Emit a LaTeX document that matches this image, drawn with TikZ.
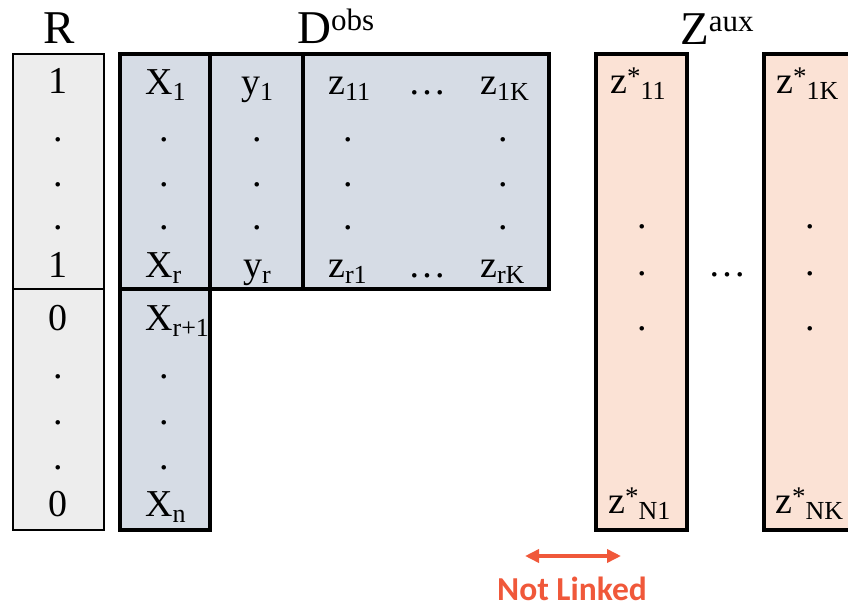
\documentclass[tikz,border=0pt]{standalone}
\usepackage{fontspec}
\setmainfont{Liberation Serif}
\newfontfamily\calfont{Carlito}
\usetikzlibrary{arrows.meta}
\definecolor{rgray}{HTML}{EDEDED}
\definecolor{dblue}{HTML}{D6DCE5}
\definecolor{zpeach}{HTML}{FBE2D5}
\definecolor{linkred}{HTML}{F0583A}
\newcommand\Sb[1]{\raisebox{-6bp}{\fontsize{26bp}{26bp}\selectfont #1}}
\newcommand\Sp[1]{\raisebox{13bp}{\fontsize{31bp}{31bp}\selectfont #1}}
\newcommand\St{\raisebox{8bp}{\fontsize{27bp}{27bp}\selectfont *}}
\begin{document}
\begin{tikzpicture}[x=1bp,y=-1bp,
  cell/.style={font=\fontsize{38bp}{40bp}\selectfont, inner sep=0pt, anchor=base},
  lcell/.style={cell, anchor=base west},
  head/.style={font=\fontsize{47bp}{50bp}\selectfont, inner sep=0pt, anchor=base},
  rbox/.style={draw=black, line width=2bp, fill=rgray},
  dbox/.style={draw=black, line width=3.5bp, fill=dblue, line join=miter},
  dline/.style={draw=black, line width=3.5bp},
  zbox/.style={draw=black, line width=3.3bp, fill=zpeach},
  link/.style={draw=linkred, line width=4bp, {Triangle[length=14bp,width=13bp]}-{Triangle[length=14bp,width=13bp]}}
]
\useasboundingbox (0,0) rectangle (848,607);
% boxes
\path[rbox] (13,54) rectangle (104,530);
\draw[line width=1.7bp] (13,289) -- (104,289);
\path[dbox] (120,54) -- (549,54) -- (549,289) -- (210,289) -- (210,530) -- (120,530) -- cycle;
\path[dline] (210,54) -- (210,289);
\path[dline] (303,54) -- (303,289);
\path[dline] (120,289) -- (210,289);
\path[zbox] (596,54) rectangle (687,530);
\path[zbox] (764,54) rectangle (858,530);
% headers
\node[head] (hR) at (59,44) {R};
\node[head, anchor=base west] (hD) at (297,44) {D\Sp{obs}};
\node[head, anchor=base west] (hZ) at (680,45) {Z\Sp{aux}};
% R column
\node[cell] (r1) at (58,94) {1};
\node[cell] (r2) at (58,142) {.};
\node[cell] (r3) at (58,187) {.};
\node[cell] (r4) at (58,230) {.};
\node[cell] (r5) at (58,277) {1};
\node[cell] (r6) at (58,330) {0};
\node[cell] (r7) at (58,378) {.};
\node[cell] (r8) at (58,424) {.};
\node[cell] (r9) at (58,469) {.};
\node[cell] (r10) at (58,516) {0};
% X column
\node[lcell] (x1) at (145,95) {X\Sb{1}};
\node[cell] (x2) at (164,142) {.};
\node[cell] (x3) at (164,187) {.};
\node[cell] (x4) at (164,230) {.};
\node[lcell] (x5) at (145,277) {X\Sb{r}};
\node[lcell] (x6) at (145,330) {X\Sb{r+1}};
\node[cell] (x7) at (164,378) {.};
\node[cell] (x8) at (164,424) {.};
\node[cell] (x9) at (164,469) {.};
\node[lcell] (x10) at (145,516) {X\Sb{n}};
% y column
\node[cell] (y1) at (257,95) {y\Sb{1}};
\node[cell] (y2) at (257,142) {.};
\node[cell] (y3) at (257,187) {.};
\node[cell] (y4) at (257,230) {.};
\node[cell] (y5) at (257,277) {y\Sb{r}};
% z columns
\node[lcell] (z11) at (328,95) {z\Sb{11}};
\node[cell] (za) at (348,142) {.};
\node[cell] (zb) at (348,187) {.};
\node[cell] (zc) at (348,230) {.};
\node[lcell] (zr1) at (328,277) {z\Sb{r1}};
\node[cell] (e1) at (427,95) {…};
\node[cell] (e2) at (427,277) {…};
\node[lcell] (z1K) at (480,95) {z\Sb{1K}};
\node[cell] (zd) at (503,142) {.};
\node[cell] (ze) at (503,187) {.};
\node[cell] (zf) at (503,230) {.};
\node[lcell] (zrK) at (480,277) {z\Sb{rK}};
% Z aux columns
\node[lcell] (s11) at (610,94) {z\St\Sb{11}};
\node[cell] (sa) at (642,229) {.};
\node[cell] (sb) at (642,275) {.};
\node[cell] (sc) at (642,330) {.};
\node[lcell] (sN1) at (608,513) {z\St\Sb{N1}};
\node[lcell] (s1K) at (776,94) {z\St\Sb{1K}};
\node[cell] (sd) at (810,229) {.};
\node[cell] (se) at (810,275) {.};
\node[cell] (sf) at (810,330) {.};
\node[lcell] (sNK) at (775,513) {z\St\Sb{NK}};
\node[cell] (mid) at (727,276) {…};
% not linked
\coordinate (la) at (525,556);
\coordinate (lb) at (621,556);
\draw[link] (la) -- (lb);
\node[inner sep=0pt, anchor=base, text=linkred, font=\calfont\bfseries\fontsize{33.5bp}{36bp}\selectfont] (nl) at (572,600) {Not Linked};
\end{tikzpicture}
\end{document}
